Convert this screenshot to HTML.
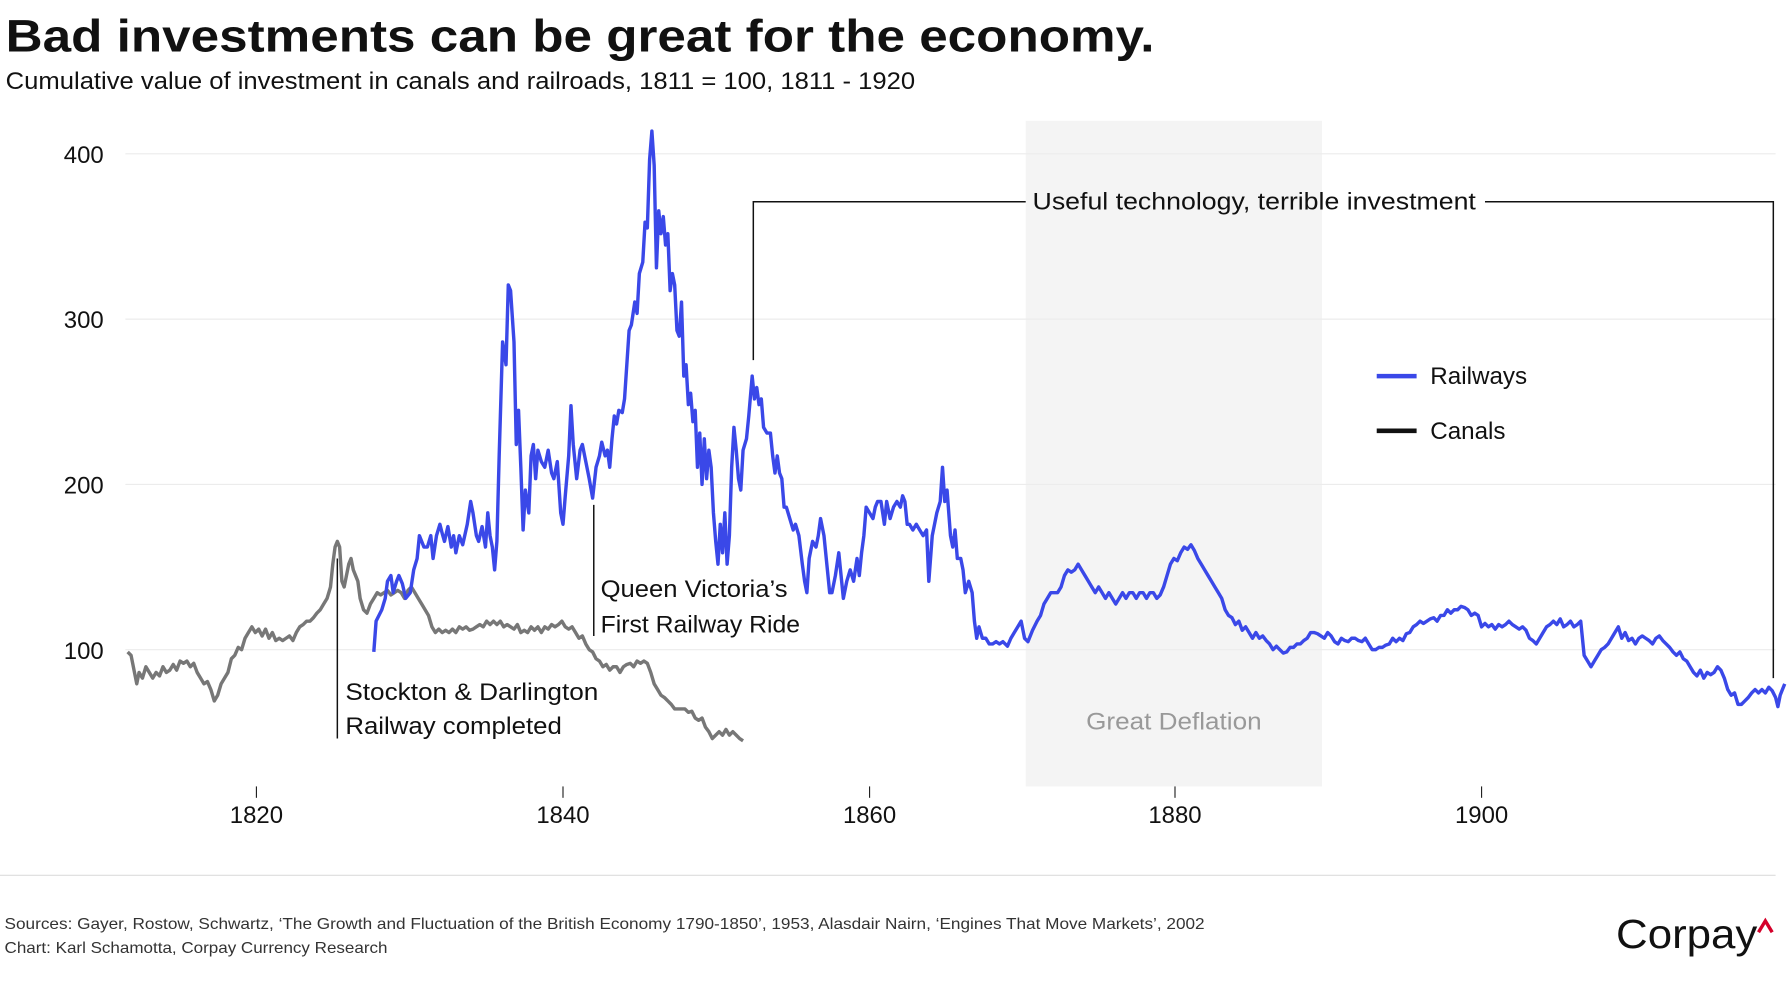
<!DOCTYPE html>
<html><head><meta charset="utf-8"><style>
html,body{margin:0;padding:0;background:#fff;}
svg{display:block;}
text{font-family:"Liberation Sans",sans-serif;}
</style></head><body>
<svg width="1787" height="1000" viewBox="0 0 1568 877.4" preserveAspectRatio="none" xmlns="http://www.w3.org/2000/svg">
<rect x="900" y="106" width="260" height="584" fill="#f4f4f4"/>
<g stroke="#ececec" stroke-width="1">
<line x1="110" y1="135" x2="1558" y2="135"/><line x1="110" y1="280" x2="1558" y2="280"/>
<line x1="110" y1="425" x2="1558" y2="425"/><line x1="110" y1="570" x2="1558" y2="570"/>
</g>
<g font-size="21" fill="#111" text-anchor="end">
<text x="91" y="143">400</text><text x="91" y="288">300</text><text x="91" y="433">200</text><text x="91" y="578">100</text>
</g>
<g stroke="#222" stroke-width="1"><line x1="225" y1="690" x2="225" y2="700"/><line x1="494" y1="690" x2="494" y2="700"/><line x1="763" y1="690" x2="763" y2="700"/><line x1="1031" y1="690" x2="1031" y2="700"/><line x1="1300" y1="690" x2="1300" y2="700"/></g>
<g font-size="21" fill="#111" text-anchor="middle">
<text x="225" y="722">1820</text><text x="494" y="722">1840</text><text x="763" y="722">1860</text><text x="1031" y="722">1880</text><text x="1300" y="722">1900</text>
</g>
<text x="953" y="640" font-size="21" fill="#999" textLength="154" lengthAdjust="spacingAndGlyphs">Great Deflation</text>
<polyline fill="none" stroke="#777" stroke-width="3" stroke-linejoin="round" points="112,572 115,575 118,590 120,600 122,590 125,595 128,585 131,590 134,595 137,590 140,593 143,585 146,590 149,588 152,583 155,588 158,580 161,582 164,580 167,585 170,582 173,590 176,595 179,600 182,598 185,605 188,615 191,610 194,600 197,595 200,590 203,578 206,575 209,568 212,570 215,560 218,555 221,550 224,555 227,552 230,558 233,552 236,560 239,555 242,562 245,560 248,562 251,560 254,558 257,562 260,555 263,550 266,548 269,545 272,545 275,542 278,538 281,535 284,530 287,525 290,515 292,495 294,480 296,475 298,480 300,510 302,515 304,505 306,495 308,490 310,500 312,505 314,510 316,525 319,535 322,538 325,530 328,525 331,520 334,522 337,520 340,518 343,522 346,520 349,518 352,520 355,525 358,518 361,515 364,520 367,525 370,530 373,535 376,540 379,550 382,555 385,552 388,555 391,553 394,555 397,552 400,555 403,550 406,552 409,550 412,553 415,552 418,550 421,548 424,550 427,545 430,548 433,545 436,548 439,545 442,550 445,548 448,550 451,552 454,548 457,555 460,553 463,555 466,550 469,553 472,550 475,555 478,550 481,552 484,548 487,550 490,548 493,545 496,550 499,552 502,550 505,555 508,560 511,558 514,565 517,570 520,572 523,578 526,580 529,585 532,583 535,588 538,585 541,585 544,590 547,585 550,583 553,582 556,585 559,580 562,582 565,580 568,582 571,590 574,600 577,605 580,610 583,612 586,615 589,618 592,622 595,622 598,622 601,622 604,625 607,624 610,630 613,632 616,630 619,638 622,642 625,648 628,645 631,642 634,645 637,640 640,645 643,642 646,645 649,648 652,650"/>
<polyline fill="none" stroke="#3a48e8" stroke-width="3" stroke-linejoin="round" points="328,572 330,545 335,535 338,525 340,510 343,505 345,520 348,510 350,505 353,512 356,525 360,520 363,500 366,490 368,470 370,475 372,480 375,480 378,470 380,490 383,470 386,460 388,468 390,475 393,462 396,480 398,470 400,485 403,470 406,478 410,460 413,440 415,450 418,470 420,475 423,462 426,480 428,450 430,470 432,480 434,500 436,475 438,400 441,300 444,320 446,250 448,255 451,300 453,390 455,360 457,410 459,465 461,430 464,450 466,400 468,390 470,420 472,395 475,405 478,410 481,395 484,415 486,420 489,405 492,450 494,460 496,435 499,400 501,356 503,390 506,420 509,395 511,390 514,405 517,420 520,437 523,410 526,400 528,388 531,400 533,395 535,410 537,385 539,365 541,372 543,360 546,362 548,350 550,320 552,290 554,285 557,265 559,275 561,240 564,230 566,195 568,200 570,140 572,115 574,145 576,235 578,185 580,205 582,190 584,215 586,205 588,255 590,240 592,250 594,290 596,295 598,265 600,330 602,320 604,355 606,345 608,370 610,360 612,410 614,380 616,425 618,385 620,420 622,395 624,410 626,450 628,475 630,495 632,460 634,485 636,450 638,495 640,470 642,410 644,375 646,395 648,420 650,430 652,395 655,385 657,365 660,330 662,350 664,340 666,355 668,350 670,375 673,380 676,380 678,400 680,415 682,400 684,415 686,420 688,445 690,445 693,455 696,465 698,460 701,470 704,495 706,510 708,520 710,490 713,475 716,480 718,470 720,455 723,470 726,500 728,520 730,520 733,505 736,485 738,505 740,525 743,510 746,500 749,510 752,490 754,505 756,485 758,470 760,445 763,450 766,455 768,445 770,440 773,440 776,460 778,440 781,455 784,445 787,440 790,445 792,435 794,440 796,460 798,460 801,465 804,460 807,465 810,470 813,465 815,510 818,470 820,460 822,450 825,440 827,410 829,440 831,430 834,470 836,480 838,465 840,490 843,490 845,500 847,520 850,510 853,520 855,545 857,560 859,550 862,560 865,560 868,565 871,565 874,563 877,565 880,563 884,567 887,560 890,555 893,550 896,545 899,560 902,563 906,553 910,545 913,540 916,530 919,525 922,520 925,520 928,520 931,515 934,505 937,500 940,502 943,500 946,495 949,500 952,505 955,510 958,515 961,520 964,515 967,520 970,525 973,520 976,525 979,530 982,525 985,520 988,525 991,520 994,520 997,525 1000,520 1003,520 1006,525 1009,520 1012,520 1015,525 1018,522 1021,515 1024,505 1027,495 1030,490 1033,492 1036,485 1039,480 1042,482 1045,478 1048,483 1051,490 1054,495 1057,500 1060,505 1063,510 1066,515 1069,520 1072,525 1075,535 1078,540 1081,542 1084,548 1087,545 1090,553 1093,550 1096,555 1099,560 1102,555 1105,560 1108,558 1111,562 1114,565 1117,570 1120,567 1123,570 1126,573 1129,572 1132,568 1135,568 1138,565 1141,565 1144,562 1147,560 1150,555 1153,555 1156,556 1159,558 1162,560 1165,555 1168,558 1171,563 1174,565 1177,560 1180,562 1183,563 1186,560 1189,560 1192,562 1195,563 1198,560 1201,565 1204,570 1207,570 1210,568 1213,568 1216,566 1219,565 1222,560 1225,563 1228,560 1231,562 1234,556 1237,555 1240,550 1243,548 1246,545 1249,547 1252,545 1255,543 1258,542 1261,545 1264,540 1267,540 1270,535 1273,538 1276,535 1279,535 1282,532 1285,533 1288,535 1291,540 1294,538 1297,540 1300,550 1303,547 1306,550 1309,548 1312,552 1315,548 1318,550 1321,548 1324,545 1327,548 1330,550 1333,552 1336,550 1339,553 1342,560 1345,562 1348,565 1351,560 1354,555 1357,550 1360,548 1363,545 1366,548 1369,543 1372,550 1375,548 1378,545 1381,550 1384,548 1387,545 1390,575 1393,580 1396,585 1399,580 1402,575 1405,570 1408,568 1411,565 1414,560 1417,555 1420,550 1423,560 1426,555 1429,562 1432,560 1435,565 1438,560 1441,558 1444,560 1447,562 1450,565 1453,560 1456,558 1459,562 1462,565 1465,568 1468,572 1471,575 1474,572 1477,578 1480,580 1483,585 1486,590 1489,593 1492,588 1495,595 1498,590 1501,592 1504,590 1507,585 1510,588 1513,595 1516,605 1519,610 1522,608 1525,618 1528,618 1531,615 1534,612 1537,608 1540,605 1543,608 1546,605 1549,608 1552,603 1555,606 1558,612 1560,620 1562,610 1564,605 1566,600"/>
<g stroke="#111" stroke-width="1.3" fill="none">
<line x1="296" y1="490" x2="296" y2="648"/>
<line x1="521" y1="443" x2="521" y2="558"/>
<polyline points="661,316 661,177 900,177"/>
<polyline points="1303,177 1556,177 1556,595"/>
</g>
<g font-size="21" fill="#111">
<text x="303" y="614" textLength="222" lengthAdjust="spacingAndGlyphs">Stockton &amp; Darlington</text><text x="303" y="644" textLength="190" lengthAdjust="spacingAndGlyphs">Railway completed</text>
<text x="527" y="524" textLength="164" lengthAdjust="spacingAndGlyphs">Queen Victoria’s</text><text x="527" y="555" textLength="175" lengthAdjust="spacingAndGlyphs">First Railway Ride</text>
<text x="906" y="184" textLength="389" lengthAdjust="spacingAndGlyphs">Useful technology, terrible investment</text>
<text x="1255" y="337" textLength="85" lengthAdjust="spacingAndGlyphs">Railways</text><text x="1255" y="385" textLength="66" lengthAdjust="spacingAndGlyphs">Canals</text>
</g>
<line x1="1208" y1="330" x2="1243" y2="330" stroke="#3a48e8" stroke-width="4"/>
<line x1="1208" y1="378" x2="1243" y2="378" stroke="#111" stroke-width="4"/>
<text x="5" y="45" font-size="40" font-weight="bold" fill="#111" textLength="1008" lengthAdjust="spacingAndGlyphs">Bad investments can be great for the economy.</text>
<text x="5" y="78" font-size="21" fill="#111" textLength="798" lengthAdjust="spacingAndGlyphs">Cumulative value of investment in canals and railroads, 1811 = 100, 1811 - 1920</text>
<line x1="0" y1="768" x2="1558" y2="768" stroke="#ddd" stroke-width="1"/>
<text x="4" y="815" font-size="14" fill="#333" textLength="1053" lengthAdjust="spacingAndGlyphs">Sources: Gayer, Rostow, Schwartz, ‘The Growth and Fluctuation of the British Economy 1790-1850’, 1953, Alasdair Nairn, ‘Engines That Move Markets’, 2002</text>
<text x="4" y="836" font-size="14" fill="#333" textLength="336" lengthAdjust="spacingAndGlyphs">Chart: Karl Schamotta, Corpay Currency Research</text>
<text x="1418" y="832" font-size="36" fill="#111" textLength="124" lengthAdjust="spacingAndGlyphs">Corpay</text>
<polyline points="1543,818 1549,808 1555,818" fill="none" stroke="#d4002a" stroke-width="3"/>
</svg>
</body></html>
